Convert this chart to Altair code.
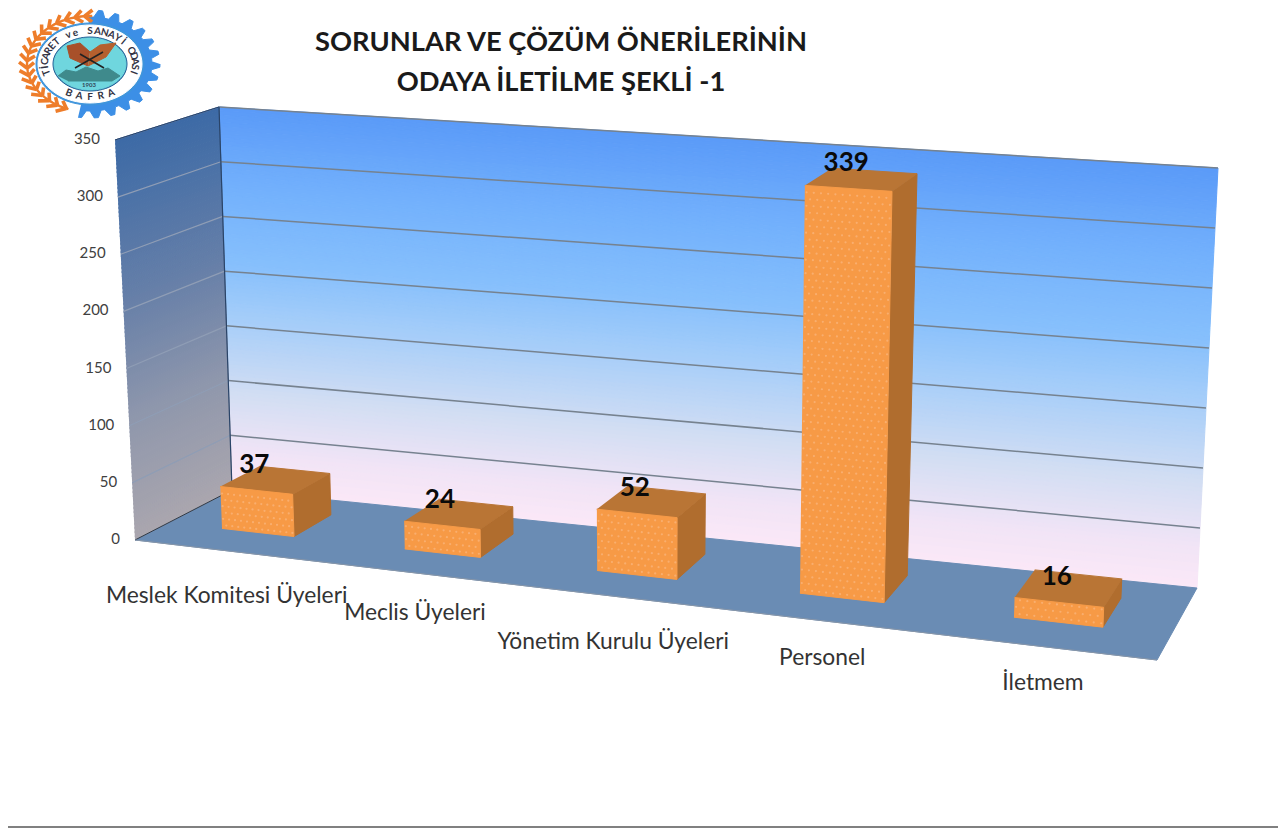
import math
import altair as alt
import pandas as pd

categories = ["Meslek Komitesi Üyeleri", "Meclis Üyeleri", "Yönetim Kurulu Üyeleri", "Personel", "İletmem"]
values = [37, 24, 52, 339, 16]
ticks = [0, 50, 100, 150, 200, 250, 300, 350]
title_lines = ["SORUNLAR VE ÇÖZÜM ÖNERİLERİNİN", "ODAYA İLETİLME ŞEKLİ -1"]

W, H = 1270, 820
VMAX = 350.0
X_DOM = alt.Scale(domain=[8, 8 + W], nice=False, zero=False)
Y_DOM = alt.Scale(domain=[8 + H, 8], nice=False, zero=False)

# perspective box of the 3-D chart
F0, F1, B0, B1 = (135, 540), (1157, 660), (232, 490), (1197, 588)
F0T, F1T, B0T, B1T = (115, 140), (1174, 214), (219, 107), (1218, 168)


def warp(t):
    k = 0.876
    return t * k / (1 + (k - 1) * t)


def P(t, v, w):
    u, s = warp(t), v / VMAX
    def lerp(a, b, f):
        return (a[0] + (b[0] - a[0]) * f, a[1] + (b[1] - a[1]) * f)
    bot = lerp(lerp(F0, F1, u), lerp(B0, B1, u), w)
    top = lerp(lerp(F0T, F1T, u), lerp(B0T, B1T, u), w)
    return lerp(bot, top, s)


def hex2rgb(c):
    return [int(c[i:i + 2], 16) for i in (1, 3, 5)]


def ramp(stops, f):
    for (a, ca), (b, cb) in zip(stops, stops[1:]):
        if a <= f <= b:
            g = (f - a) / (b - a)
            ra, rb = hex2rgb(ca), hex2rgb(cb)
            return "#%02x%02x%02x" % tuple(round(x + (y - x) * g) for x, y in zip(ra, rb))
    return stops[-1][1]


def polys(items):
    """items: list of (points, colour), each drawn as one closed filled path."""
    rows = []
    for pid, (pts, col) in enumerate(items):
        for i, (x, y) in enumerate(pts):
            rows.append({"x": x, "y": y, "i": i, "pid": pid, "c": col})
    return alt.Chart(pd.DataFrame(rows)).mark_line(strokeWidth=1, interpolate="linear").encode(
        x=alt.X("x:Q", scale=X_DOM, axis=None),
        y=alt.Y("y:Q", scale=Y_DOM, axis=None),
        order=alt.Order("i:Q"),
        detail="pid:N",
        fill=alt.Fill("c:N", scale=None),
        stroke=alt.Stroke("c:N", scale=None),
    )


def lines(segs, color, width, opacity=1.0):
    rows = []
    for pid, seg in enumerate(segs):
        for i, (x, y) in enumerate(seg):
            rows.append({"x": x, "y": y, "i": i, "pid": pid})
    return alt.Chart(pd.DataFrame(rows)).mark_line(color=color, strokeWidth=width, opacity=opacity).encode(
        x=alt.X("x:Q", scale=X_DOM, axis=None),
        y=alt.Y("y:Q", scale=Y_DOM, axis=None),
        order=alt.Order("i:Q"),
        detail="pid:N",
    )


def texts(rows, **mark):
    return alt.Chart(pd.DataFrame(rows)).mark_text(**mark).encode(
        x=alt.X("x:Q", scale=X_DOM, axis=None),
        y=alt.Y("y:Q", scale=Y_DOM, axis=None),
        text="t:N",
    )


layers = []

# ---------- logo ----------
LX, LY = 90, 64


def ell(rx, ry, a0=0, a1=360, n=72, cx=LX, cy=LY):
    return [(cx + rx * math.cos(math.radians(a0 + (a1 - a0) * i / n)),
             cy + ry * math.sin(math.radians(a0 + (a1 - a0) * i / n))) for i in range(n + 1)]


def pt(rx, ry, a):
    return (LX + rx * math.cos(math.radians(a)), LY + ry * math.sin(math.radians(a)))


gear = []
n_teeth = 26
for i in range(n_teeth * 4):
    a = 360 * i / (n_teeth * 4)
    out = (i // 2) % 2 == 0
    rx, ry = (70, 54) if out else (62, 47)
    gear.append(pt(rx, ry, a))
logo_items = [(gear, "#3c8fe6")]
logo_items.append((ell(74, 58, 100, 268, 40) + ell(50, 40, 268, 100, 40), "#ffffff"))
layers.append(polys(logo_items))

# wheat wreath
grains_out, grains_in = [], []
for a in range(112, 268, 9):
    grains_out.append([pt(63, 48, a), pt(71, 54, a + 7)])
    grains_in.append([pt(63, 48, a), pt(56, 42, a + 7)])
layers.append(lines(grains_out, "#ee7d2a", 3.6))
layers.append(lines(grains_in, "#ee7d2a", 3.6))
layers.append(lines([ell(63, 48, 110, 272, 40)], "#ee7d2a", 2.4))

inner = [(ell(54, 41), "#3f95dc"), (ell(52, 39), "#ffffff"), (ell(37, 27), "#1e5e96"), (ell(36, 26), "#6fd6de")]
inner.append(([(58, 76), (66, 70), (76, 72), (86, 67), (98, 71), (108, 68), (120, 76), (112, 81), (68, 81)], "#3f8a8c"))
inner.append(([(88, 66), (70, 58), (67, 46), (80, 43), (90, 52)], "#a8502a"))
inner.append(([(88, 66), (106, 57), (116, 43), (100, 45), (90, 52)], "#b5602e"))
layers.append(polys(inner))
layers.append(lines([[(75, 68), (103, 52)], [(104, 68), (80, 54)]], "#222222", 1.6))


def ring_text(s, a0, a1, rx, ry, flip=False):
    rows = []
    for i, ch in enumerate(s):
        a = math.radians(a0 + (a1 - a0) * i / (len(s) - 1))
        deg = math.degrees(math.atan2(ry * math.cos(a), -rx * math.sin(a)))
        deg = deg - 180 if flip else deg
        rows.append({"x": LX + rx * math.cos(a), "y": LY + ry * math.sin(a), "t": ch, "a": (deg + 360) % 360})
    return rows


ring_font = dict(font="Lato", fontWeight="bold", fontSize=10, color="#333344", align="center", baseline="middle")
for rows in (ring_text("TİCARET ve SANAYİ ODASI", 165, 375, 45, 33),
             ring_text("BAFRA", 118, 62, 45, 33, flip=True)):
    layers.append(alt.Chart(pd.DataFrame(rows)).mark_text(**ring_font).encode(
        x=alt.X("x:Q", scale=X_DOM, axis=None),
        y=alt.Y("y:Q", scale=Y_DOM, axis=None),
        text="t:N",
        angle=alt.Angle("a:Q", scale=None),
    ))
layers.append(texts([{"x": 89, "y": 85, "t": "1903"}], font="Lato", fontWeight="bold", fontSize=6, color="#334455"))

# ---------- walls & floor ----------
wall_stops = [(0, "#fbe8f7"), (0.1, "#f1e4f6"), (0.25, "#d3def3"), (0.45, "#a5cdf9"),
              (0.6, "#85bffc"), (0.8, "#72b0fc"), (1, "#5a9af8")]
side_stops = [(0, "#aaa6ae"), (0.3, "#8f97ac"), (0.6, "#667fa8"), (1, "#3c6aa6")]
back, left = [], []
STEP = 3.5
v = 0.0
while v < 350:
    back.append(([P(0, v, 1), P(1, v, 1), P(1, v + STEP, 1), P(0, v + STEP, 1)], ramp(wall_stops, (v + STEP / 2) / 350)))
    left.append(([P(0, v, 0), P(0, v, 1), P(0, v + STEP, 1), P(0, v + STEP, 0)], ramp(side_stops, (v + STEP / 2) / 350)))
    v += STEP
layers.append(polys(back))
layers.append(polys(left))
layers.append(polys([([P(0, 0, 0), P(1, 0, 0), P(1, 0, 1), P(0, 0, 1)], "#6a8cb4")]))

layers.append(lines([[P(0, v, 1), P(1, v, 1)] for v in ticks[1:]], "#76828f", 1.5))
layers.append(lines([[P(0, v, 0), P(0, v, 1)] for v in ticks[1:]], "#8f9db5", 1.2))
layers.append(lines([[P(0, 0, 1), P(0, VMAX, 1)]], "#2a4468", 1.2))
layers.append(lines([[P(0, 0, 0), P(0, 0, 1)]], "#333a45", 1))
layers.append(lines([[P(0, VMAX, 0), P(0, VMAX, 1)]], "#22406a", 1))
layers.append(lines([[P(0, 0, 0), P(1, 0, 0)]], "#8896a8", 1))

# ---------- bars ----------
BAR_T, W0, W1 = 0.04, 0.35, 0.76
FRONT, TOP, SIDE, DOT = "#f79a46", "#b97535", "#b06d2e", "#fcc08f"
n = len(categories)
for i, val in enumerate(values):
    tc = (i + 0.5) / n
    t0, t1 = tc - BAR_T, tc + BAR_T
    layers.append(polys([
        ([P(t1, 0, W0), P(t1, 0, W1), P(t1, val, W1), P(t1, val, W0)], SIDE),
        ([P(t0, val, W0), P(t1, val, W0), P(t1, val, W1), P(t0, val, W1)], TOP),
        ([P(t0, 0, W0), P(t1, 0, W0), P(t1, val, W0), P(t0, val, W0)], FRONT),
    ]))
    dots = []
    row = 0
    vv = 3.0
    while vv < val - 1:
        cols = 12
        for c in range(cols):
            tt = t0 + (t1 - t0) * (c + (0.25 if row % 2 else 0.75)) / cols
            x, y = P(tt, vv, W0)
            dots.append({"x": x, "y": y})
        vv += 5.6
        row += 1
    layers.append(alt.Chart(pd.DataFrame(dots)).mark_circle(size=5, color=DOT, opacity=0.55).encode(
        x=alt.X("x:Q", scale=X_DOM, axis=None),
        y=alt.Y("y:Q", scale=Y_DOM, axis=None),
    ))

# ---------- text ----------
layers.append(texts([{"x": 561, "y": 43, "t": title_lines[0]}, {"x": 561, "y": 83, "t": title_lines[1]}],
                    font="Lato", fontWeight="bold", fontSize=27.3, color="#1a1a1a", align="center", baseline="middle"))

tick_rows = []
for v in ticks:
    x, y = P(0, v, 0)
    tick_rows.append({"x": x - 15, "y": y - 1, "t": str(v)})
layers.append(texts(tick_rows, font="Lato", fontSize=15, color="#404040", align="right", baseline="middle"))

label_dy = [45, 40, 46, 37, 37]
cat_rows = []
val_rows = []
for i, (cat, val) in enumerate(zip(categories, values)):
    tc = (i + 0.5) / n
    x, y = P(tc, 0, 0)
    cat_rows.append({"x": x + 1, "y": y + label_dy[i], "t": cat})
    x, y = P(tc, val, W0)
    val_rows.append({"x": x - 2, "y": y - 25, "t": str(val)})
layers.append(texts(cat_rows, font="Lato", fontSize=22.8, color="#333333", align="center", baseline="middle"))
layers.append(texts(val_rows, font="Lato", fontWeight="bold", fontSize=26, color="#0a0a0a", align="center", baseline="middle"))

# foot border of the slide
layers.append(lines([[(8, 827), (8 + W, 827)]], "#808080", 2))

chart = alt.layer(*layers).properties(
    width=W, height=H, padding=0, background="#ffffff",
    autosize=alt.AutoSizeParams(type="none"),
).configure_view(stroke=None)

chart.save("out.html", embed_options={"renderer": "svg", "actions": False})
